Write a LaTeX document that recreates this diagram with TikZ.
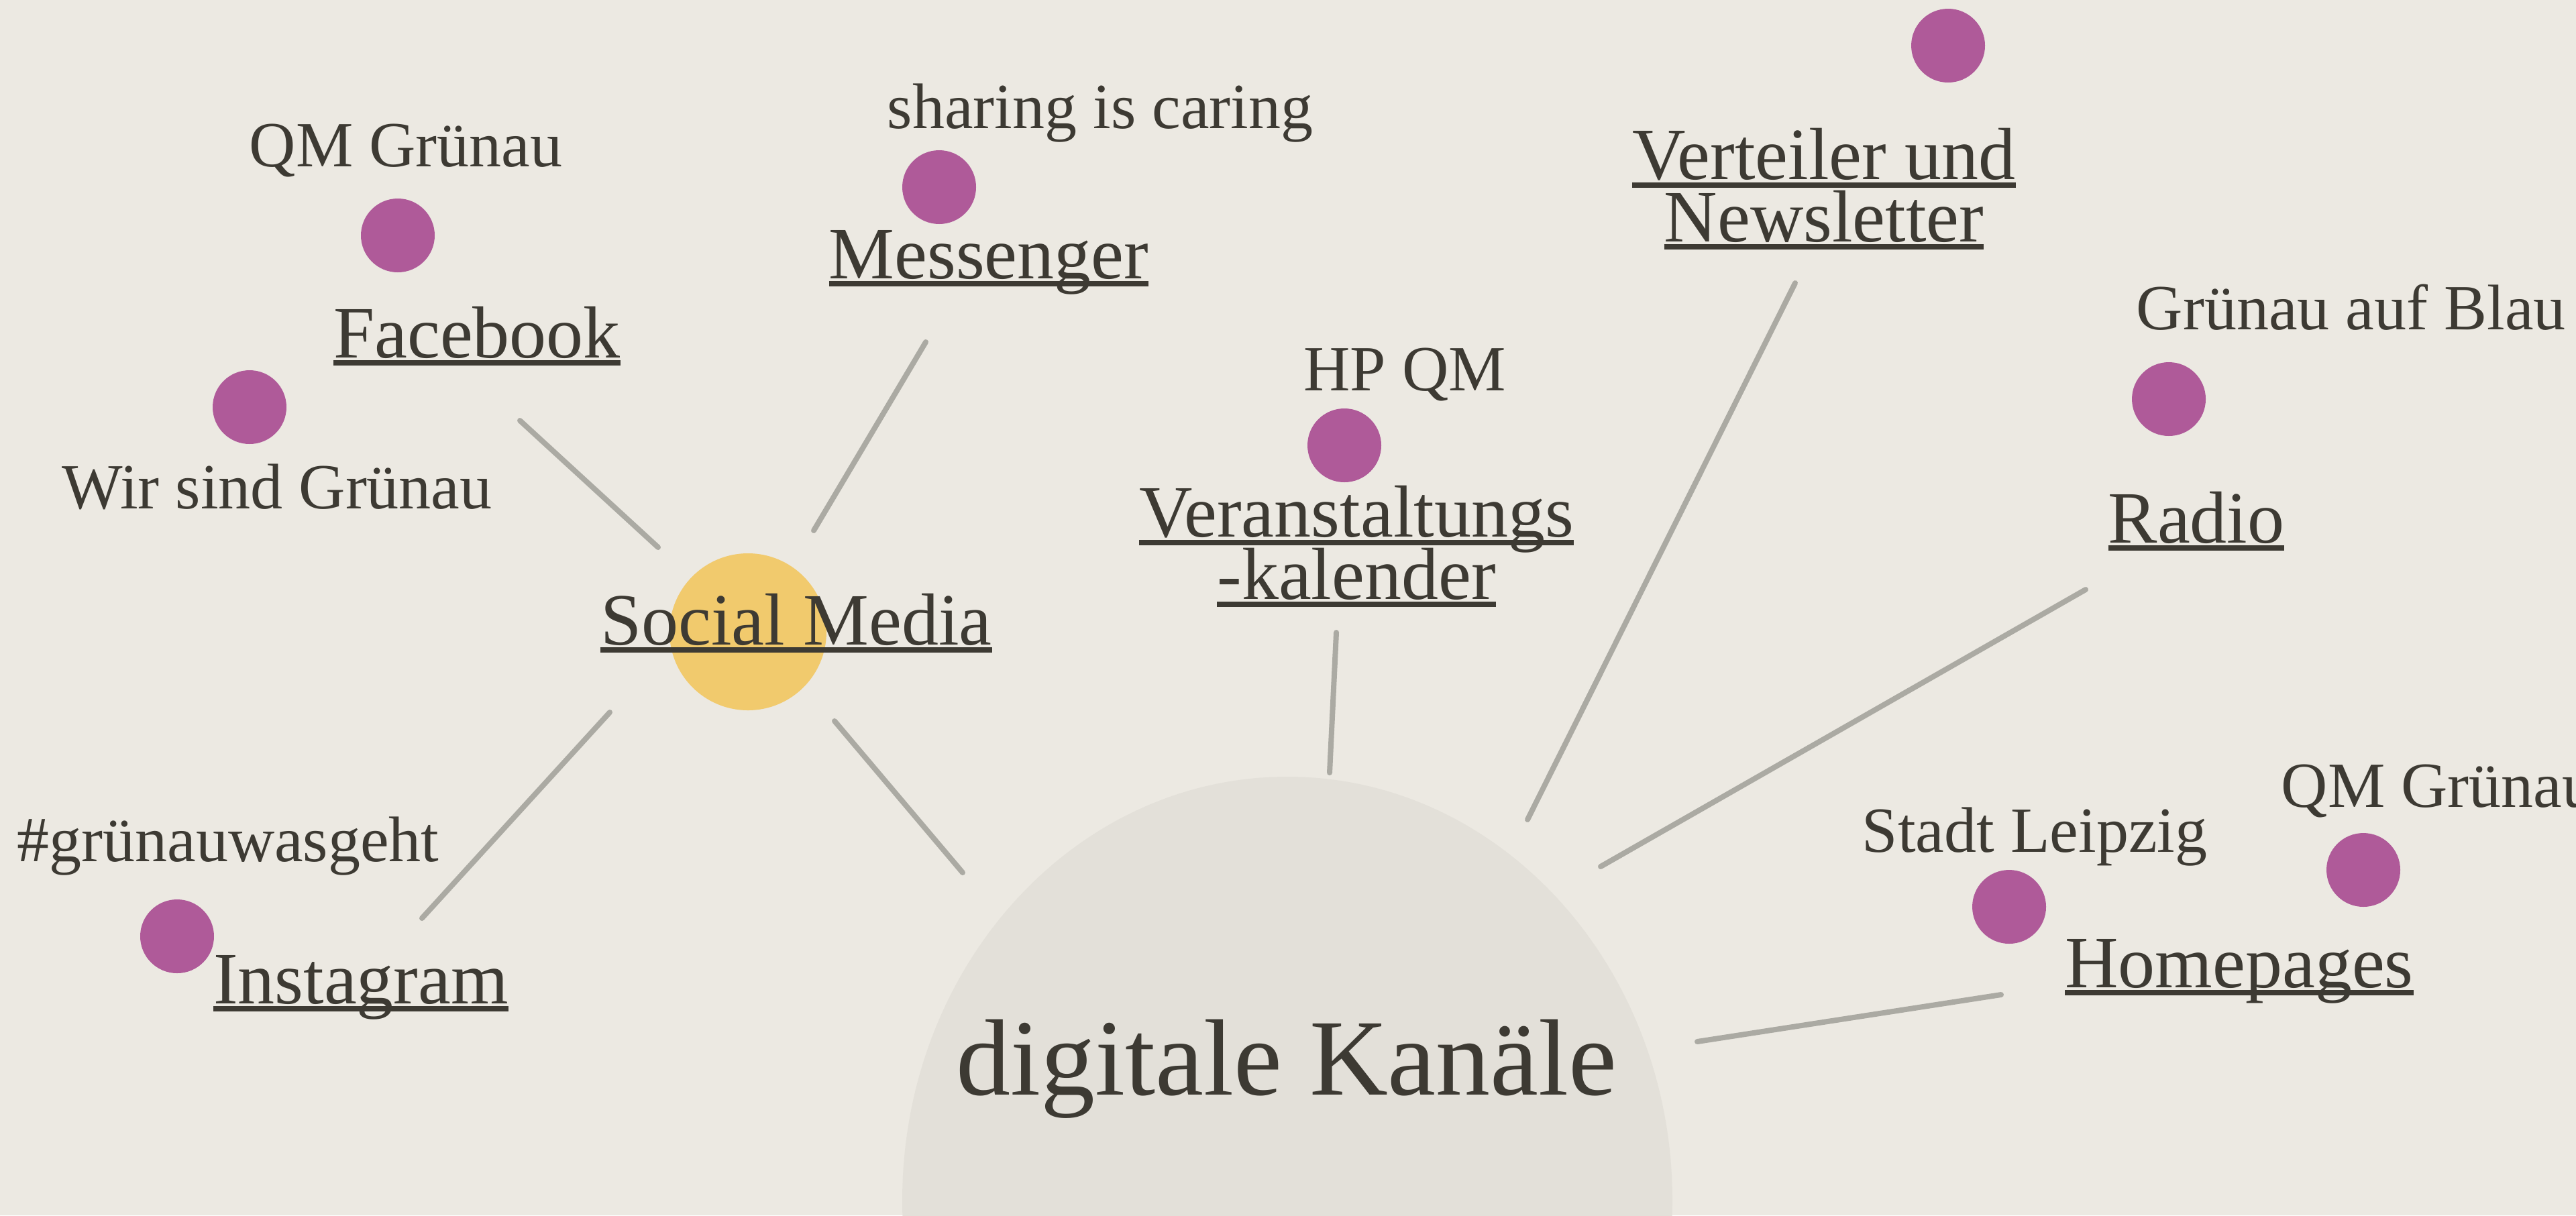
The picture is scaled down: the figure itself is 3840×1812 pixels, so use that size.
\documentclass[tikz,border=0pt]{standalone}
\usepackage{fontspec}
\setmainfont{Liberation Serif}
\usetikzlibrary{shapes.geometric}
\definecolor{bg}{HTML}{ECE9E2}
\definecolor{bubble}{HTML}{E3E0D9}
\definecolor{ink}{HTML}{3D3A33}
\definecolor{linegray}{HTML}{ABAAA3}
\definecolor{plum}{HTML}{AF5A99}
\definecolor{sun}{HTML}{F1CA6D}
\newcommand\mkul[1]{\setbox0=\hbox{#1}\rlap{\rule[-3.1pt]{\wd0}{2pt}}\box0}
\newcommand\ulfont{\fontsize{27.5}{23.2}\selectfont}
\lineskiplimit=-40pt
\begin{document}
\begin{tikzpicture}[x=0.25pt,y=-0.25pt,
  lbl/.style={text=ink, font=\fontsize{24}{24}\selectfont, inner sep=0pt, anchor=base},
  ulbl/.style={text=ink, font=\ulfont, inner sep=0pt, anchor=base, align=center},
  dot/.style={circle, fill=plum, minimum size=27.5pt, inner sep=0pt},
  link/.style={draw=linegray, line width=2pt, line cap=round}]
\useasboundingbox (0,0) rectangle (3840,1812);
\fill[bg] (0,0) rectangle (3840,1812);
% central bubble
\node[ellipse, fill=bubble, minimum width=287pt, minimum height=316pt, inner sep=0pt] (hub) at (1919,1790) {};
\node[text=ink, font=\fontsize{40.5}{40.5}\selectfont, inner sep=0pt, anchor=base] (title) at (1918,1632) {digitale Kanäle};
% social media circle
\node[circle, fill=sun, minimum size=58.5pt, inner sep=0pt] (smc) at (1115,942) {};
% dots
\node[dot] (d1) at (593,351) {};
\node[dot] (d2) at (372,607) {};
\node[dot] (d3) at (1400,279) {};
\node[dot] (d4) at (2004,664) {};
\node[dot] (d5) at (2904,68) {};
\node[dot] (d6) at (3233,595) {};
\node[dot] (d7) at (2995,1352) {};
\node[dot] (d8) at (3523,1297) {};
\node[dot] (d9) at (264,1396) {};
% labels
\node[lbl] (t1) at (605,248) {QM Grünau};
\node[lbl] (t2) at (413,758) {Wir sind Grünau};
\node[lbl] (t3) at (1640,191) {sharing is caring};
\node[lbl] (t4) at (2094,582) {HP QM};
\node[lbl, anchor=base west] (t5) at (3184,491) {Grünau auf Blau};
\node[lbl] (t6) at (340,1284) {\#grünauwasgeht};
\node[lbl] (t7) at (3033,1270) {Stadt Leipzig};
\node[lbl, anchor=base west] (t8) at (3400,1203) {QM Grünau};
% underlined labels (base = baseline of the last line)
\node[ulbl] (facebook) at (711,533) {\mkul{Facebook}};
\node[ulbl] (messenger) at (1474,415) {\mkul{Messenger}};
\node[ulbl] (social) at (1187,961) {\mkul{Social Media}};
\node[ulbl] (instagram) at (538,1496) {\mkul{Instagram}};
\node[ulbl] (veranst) at (2022,893) {\mkul{Veranstaltungs}\\\mkul{-kalender}};
\node[ulbl] (verteiler) at (2719,360) {\mkul{Verteiler und}\\\mkul{Newsletter}};
\node[ulbl] (radio) at (3274,809) {\mkul{Radio}};
\node[ulbl] (homepages) at (3338,1472) {\mkul{Homepages}};
% connector end points
\coordinate (fbA) at (775,627);     \coordinate (fbB) at (981,816);
\coordinate (msA) at (1380,510);    \coordinate (msB) at (1213,791);
\coordinate (igA) at (909,1062);    \coordinate (igB) at (629,1369);
\coordinate (smA) at (1244,1075);   \coordinate (smB) at (1435,1301);
\coordinate (vkA) at (1992,943);    \coordinate (vkB) at (1982,1152);
\coordinate (vnA) at (2676,422);    \coordinate (vnB) at (2277,1222);
\coordinate (raA) at (3109,879);    \coordinate (raB) at (2386,1292);
\coordinate (hpA) at (2983,1483);   \coordinate (hpB) at (2530,1553);
\draw[link] (fbA) -- (fbB);
\draw[link] (msA) -- (msB);
\draw[link] (igA) -- (igB);
\draw[link] (smA) -- (smB);
\draw[link] (vkA) -- (vkB);
\draw[link] (vnA) -- (vnB);
\draw[link] (raA) -- (raB);
\draw[link] (hpA) -- (hpB);
\end{tikzpicture}
\end{document}
